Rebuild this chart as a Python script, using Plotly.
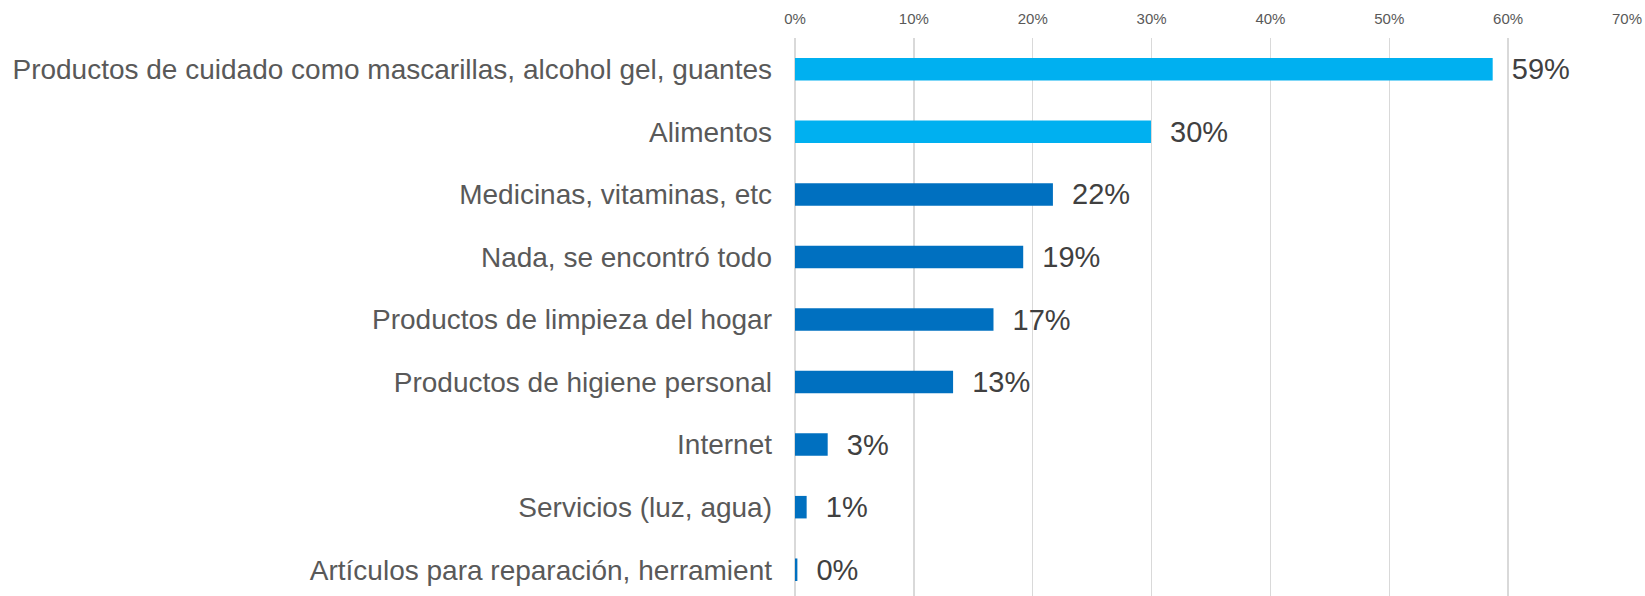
import plotly.graph_objects as go

categories = [
    "Productos de cuidado como mascarillas, alcohol gel, guantes",
    "Alimentos",
    "Medicinas, vitaminas, etc",
    "Nada, se encontró todo",
    "Productos de limpieza del hogar",
    "Productos de higiene personal",
    "Internet",
    "Servicios (luz, agua)",
    "Artículos para reparación, herramient",
]
values = [0.587, 0.2995, 0.217, 0.192, 0.167, 0.133, 0.0275, 0.0098, 0.002]
bar_colors = ["#00B0F0", "#00B0F0"] + ["#0070C0"] * 7
tick_vals = [0, 0.1, 0.2, 0.3, 0.4, 0.5, 0.6, 0.7]
tick_text = ["0%", "10%", "20%", "30%", "40%", "50%", "60%", "70%"]

labels = ["\u00a0\u00a0" + f"{round(v * 100):.0f}%" for v in values]

fig = go.Figure(
    go.Bar(
        x=values,
        y=categories,
        orientation="h",
        marker=dict(color=bar_colors, line=dict(width=0)),
        text=labels,
        textposition="outside",
        constraintext="none",
        textfont=dict(family="Liberation Sans, Arial", size=29, color="#404040"),
        cliponaxis=False,
        width=0.36,
        hoverinfo="skip",
    )
)

fig.update_layout(
    width=1645,
    height=596,
    margin=dict(l=795, r=18, t=38, b=0, autoexpand=False),
    paper_bgcolor="white",
    plot_bgcolor="white",
    showlegend=False,
    font=dict(family="Liberation Sans, Arial", color="#595959"),
    xaxis=dict(
        side="top",
        range=[0, 0.7],
        tickvals=tick_vals,
        ticktext=tick_text,
        tickfont=dict(size=15, color="#595959"),
        showgrid=True,
        gridcolor="#D9D9D9",
        gridwidth=1.5,
        zeroline=True,
        zerolinecolor="#D9D9D9",
        zerolinewidth=1.5,
        showline=False,
        ticks="",
        ticklabelstandoff=10,
        automargin=False,
        fixedrange=True,
    ),
    yaxis=dict(
        range=[8.42, -0.5],
        tickfont=dict(size=28, color="#595959"),
        showgrid=False,
        ticks="",
        ticklabelstandoff=22,
        automargin=False,
        fixedrange=True,
    ),
)

fig.write_html(
    "out.html",
    config={"displayModeBar": False, "staticPlot": True},
    post_script="document.body.style.margin='0';document.body.style.overflow='hidden';",
)
